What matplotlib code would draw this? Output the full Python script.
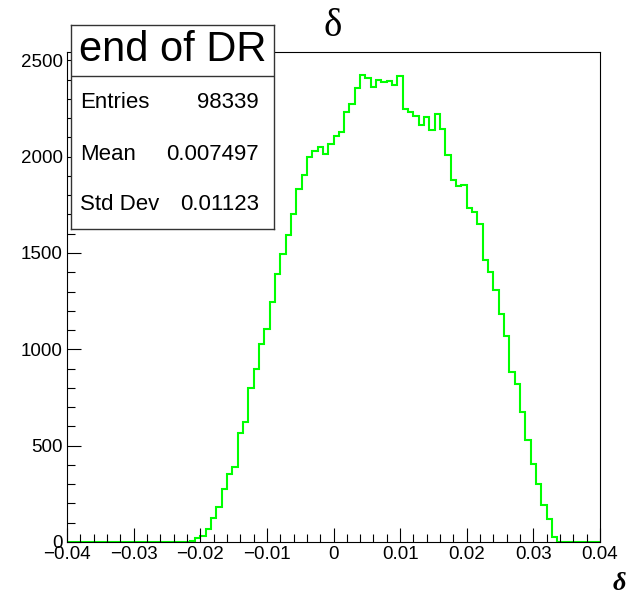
import numpy as np
import matplotlib.pyplot as plt
from matplotlib.ticker import MultipleLocator

# histogram of delta at the end of the DR: 100 bins over [-0.04, 0.04]
x_lo, x_hi, n_bins = -0.04, 0.04, 100
counts = [0] * 23 + [
    4, 19, 31, 66, 126, 184, 274, 355, 391, 564, 623, 797,          # bins 23-34
    900, 1027, 1108, 1248, 1392, 1496, 1591, 1702, 1834,            # bins 35-43
    1903, 1996, 2028, 2050, 2012, 2068, 2109, 2128, 2230, 2275, 2355,  # bins 44-54
    2422, 2409, 2362, 2399, 2386, 2391, 2370, 2421, 2248, 2232,     # bins 55-64
    2213, 2166, 2204, 2139, 2222, 2142, 2007, 1877, 1849, 1851,     # bins 65-74
    1732, 1714, 1652, 1461, 1401, 1309,                             # bins 75-80
    1184, 1067, 880, 821, 674, 530, 404, 301, 190, 118, 28, 2,      # bins 81-92
] + [0] * 7

stats_title = 'end of DR'
stats_rows = [('Entries', '98339'), ('Mean', '0.007497'), ('Std Dev', '0.01123')]

edges = np.linspace(x_lo, x_hi, n_bins + 1)

W, H = 634, 596
fig = plt.figure(figsize=(W / 100, H / 100), dpi=100)
ax = fig.add_axes([67 / W, (H - 542) / H, (600 - 67) / W, (542 - 52) / H])

ax.stairs(counts, edges, color='#00ff00', linewidth=1.5, baseline=None)
ax.set_xlim(x_lo, x_hi)
ax.set_ylim(0, 1.05 * max(counts))

ax.xaxis.set_major_locator(MultipleLocator(0.01))
ax.xaxis.set_minor_locator(MultipleLocator(0.002))
ax.yaxis.set_major_locator(MultipleLocator(500))
ax.yaxis.set_minor_locator(MultipleLocator(100))
ax.xaxis.set_major_formatter(plt.FuncFormatter(lambda v, p: '0' if abs(v) < 1e-9 else f'{v:g}'.replace('-', '\u2212')))
ax.tick_params(which='both', direction='in', width=0.8, labelsize=13.5,
               top=False, right=False, labelfontfamily='Liberation Sans')
ax.tick_params(which='major', length=10, pad=3)
ax.tick_params(which='minor', length=5.5)
for s in ax.spines.values():
    s.set_linewidth(0.8)

fig.text(333 / W, 1 - 27 / H, '\u03b4', ha='center', va='center',
         fontsize=28, family='Liberation Serif')
fig.text(626 / W, 1 - 584 / H, '\u03b4', ha='right', va='center',
         fontsize=19, family='Liberation Serif', fontweight='bold', fontstyle='italic')

# statistics box
bx0, bx1, by0, by1 = 70.7, 274, 25, 229
box = fig.add_axes([bx0 / W, (H - by1) / H, (bx1 - bx0) / W, (by1 - by0) / H])
box.set_xlim(0, 1)
box.set_ylim(0, 1)
box.set_xticks([])
box.set_yticks([])
box.set_facecolor('white')
for s in box.spines.values():
    s.set_linewidth(1.0)
    s.set_color('#333333')
div = (by1 - 76) / (by1 - by0)
box.axhline(div, color='#333333', linewidth=1.0)
box.text(0.5, (by1 - 50) / (by1 - by0), stats_title, ha='center', va='center',
         fontsize=30, family='Liberation Sans')
for (name, val), yc in zip(stats_rows, [102, 155, 205]):
    yy = (by1 - yc) / (by1 - by0)
    box.text(0.046, yy, name, ha='left', va='center', fontsize=16, family='Liberation Sans')
    box.text(0.926, yy, val, ha='right', va='center', fontsize=16, family='Liberation Sans')

fig.savefig('out.png', dpi=100)
